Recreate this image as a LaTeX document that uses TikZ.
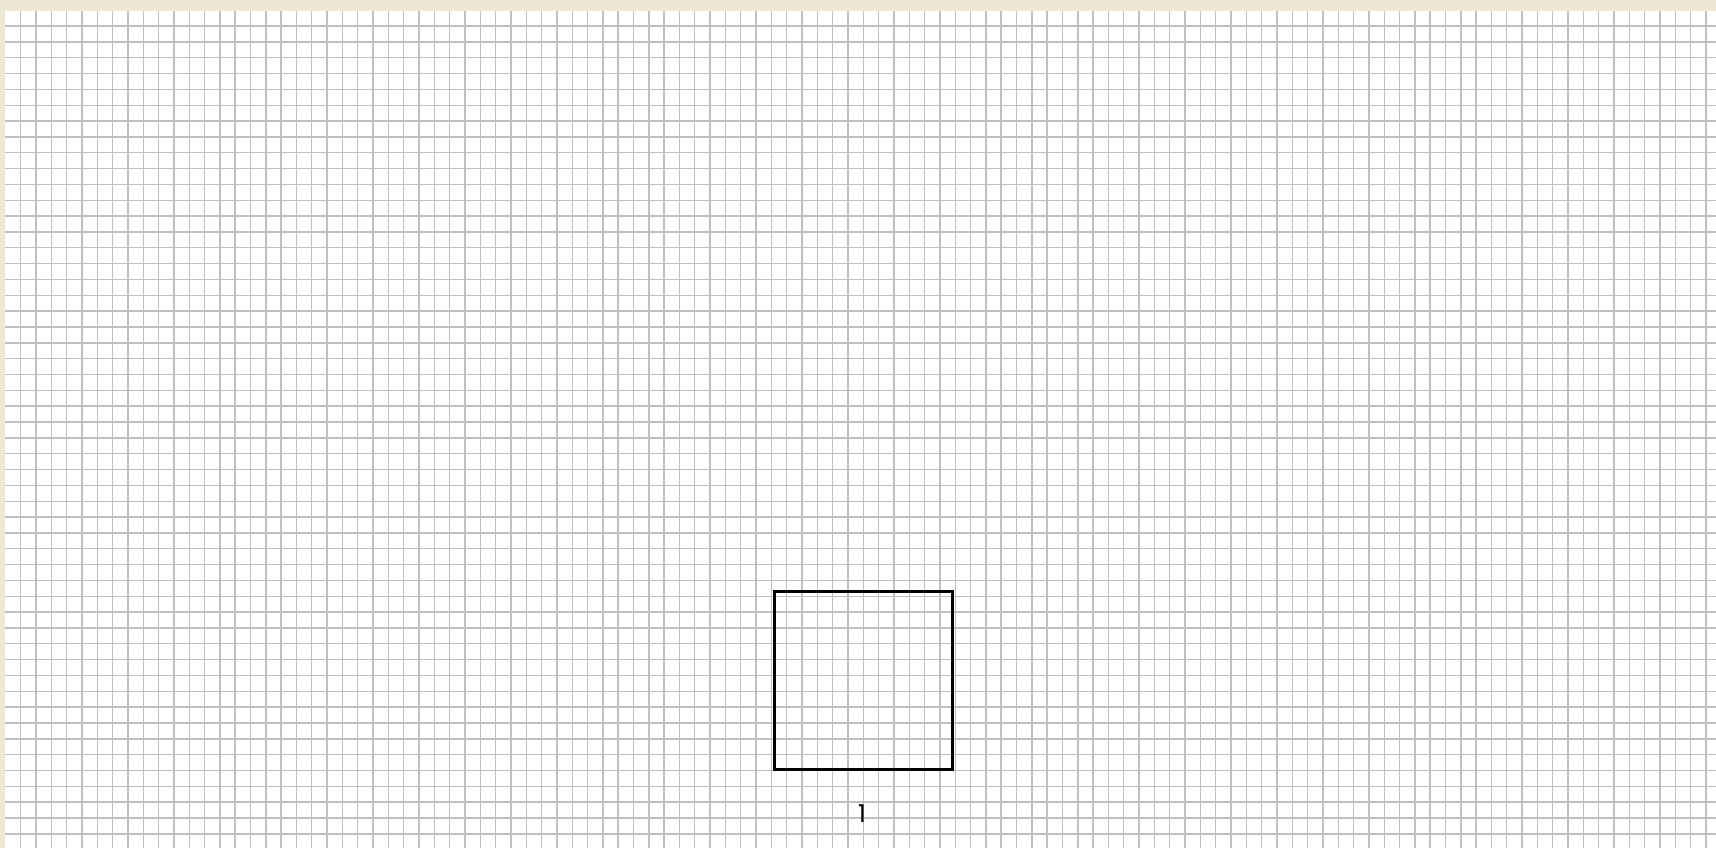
\documentclass[tikz,border=0pt]{standalone}
\usepackage{fontspec}
\setmainfont{Poppins}
\usetikzlibrary{positioning}
\definecolor{paper}{RGB}{237,231,214}
\definecolor{rule}{RGB}{192,192,192}
\begin{document}
\begin{tikzpicture}[x=0.01cm, y=-0.01cm, every node/.style={font=\fontsize{7}{8}\selectfont}]
  \useasboundingbox (0,0) rectangle (1716,848);
  \fill[paper] (0,0) rectangle (1716,848);
  \fill[white] (5,11) rectangle (1716,848);
  \foreach \i in {0,...,110}
    \draw[rule, line width=0.4pt] ({20.7+\i*15.32},11) -- ({20.7+\i*15.32},848);
  \foreach \j in {0,...,51}
    \draw[rule, line width=0.4pt] (5,{26+\j*15.84}) -- (1716,{26+\j*15.84});
  \node[draw, line width=0.75pt, minimum width=1.78cm, minimum height=1.776cm] (box) at (863.3,680.5) {};
  \node (num) at (862,813.6) {1};
\end{tikzpicture}
\end{document}
